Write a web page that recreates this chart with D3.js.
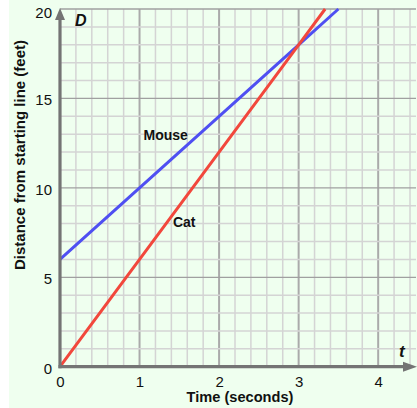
<!DOCTYPE html>
<html><head><meta charset="utf-8">
<script src="https://cdn.jsdelivr.net/npm/d3@7"></script>
<style>body{margin:0;background:#fff}svg{display:block}text{font-family:"Liberation Sans",Arial,sans-serif}</style>
</head><body><svg id="c" width="417" height="408"></svg>
<script>
// data
const mouseT = [0, 1, 2, 3, 3.5];
const mouseD = [6, 10, 14, 18, 20];
const catT = [0, 1, 2, 3, 10/3];
const catD = [0, 6, 12, 18, 20];
const xTicks = [0, 1, 2, 3, 4];
const yTicks = [0, 5, 10, 15, 20];
const seriesNames = ["Mouse", "Cat"];

const svg = d3.select("#c");
const W = 417, H = 408;
const x = d3.scaleLinear().domain([0, 4.4]).range([60, 410]);
const y = d3.scaleLinear().domain([0, 20]).range([366.7, 9]);

svg.append("rect").attr("x", 9).attr("y", 0).attr("width", W - 9).attr("height", H).attr("fill", "#efffef");

// grid
const g = svg.append("g");
const vx = d3.range(1, 23).map(i => i * 0.2);
g.selectAll("line.v").data(vx).join("line")
  .attr("x1", d => x(d)).attr("x2", d => x(d))
  .attr("y1", y(20)).attr("y2", y(0))
  .attr("stroke", d => Math.abs(d - Math.round(d)) < 1e-6 ? "#aaaaaa" : "#d4d4d4")
  .attr("stroke-width", d => Math.abs(d - Math.round(d)) < 1e-6 ? 2 : 1.5);
const hy = d3.range(1, 21);
g.selectAll("line.h").data(hy).join("line")
  .attr("y1", d => y(d)).attr("y2", d => y(d))
  .attr("x1", x(0)).attr("x2", 416)
  .attr("stroke", d => d % 5 === 0 ? "#a0a0a0" : "#d4d4d4")
  .attr("stroke-width", d => d % 5 === 0 ? 1.3 : 1.5);

// series
const line = d3.line().x(d => x(d[0])).y(d => y(d[1]));
svg.append("path").datum(mouseT.map((t, i) => [t, mouseD[i]]))
  .attr("d", line).attr("fill", "none").attr("stroke", "#4f4ff2").attr("stroke-width", 3);
svg.append("path").datum(catT.map((t, i) => [t, catD[i]]))
  .attr("d", line).attr("fill", "none").attr("stroke", "#f2473c").attr("stroke-width", 3);

// axes lines with arrows
const ax = "#747474";
svg.append("line").attr("x1", x(0)).attr("x2", x(0)).attr("y1", y(0) + 1.5).attr("y2", 19).attr("stroke", ax).attr("stroke-width", 3.2);
svg.append("path").attr("d", `M${x(0)},8 L${x(0) - 5},20 L${x(0) + 5},20 Z`).attr("fill", ax);
svg.append("line").attr("x1", x(0) - 1.5).attr("x2", 405).attr("y1", y(0)).attr("y2", y(0)).attr("stroke", ax).attr("stroke-width", 3.2);
svg.append("path").attr("d", `M417,${y(0)} L403,${y(0) - 5} L403,${y(0) + 5} Z`).attr("fill", ax);

// tick labels via d3 axes
const xa = svg.append("g").attr("transform", `translate(0,${y(0)})`)
  .call(d3.axisBottom(x).tickValues(xTicks).tickSize(0).tickPadding(9.5).tickFormat(d3.format("d")));
const ya = svg.append("g").attr("transform", `translate(${x(0)},0)`)
  .call(d3.axisLeft(y).tickValues(yTicks).tickSize(0).tickPadding(8).tickFormat(d3.format("d")));
[xa, ya].forEach(a => {
  a.select(".domain").remove();
  a.selectAll("text").attr("font-size", 15).attr("fill", "#111").style("font-family", '"Liberation Sans",Arial,sans-serif');
});
ya.selectAll("text").attr("dy", d => d === 20 ? "0.55em" : "0.43em");

// axis titles
svg.append("text").attr("x", 240).attr("y", 401.5).attr("text-anchor", "middle")
  .attr("font-size", 14.6).attr("font-weight", "bold").attr("fill", "#111").text("Time (seconds)");
svg.append("text").attr("transform", "translate(25,155) rotate(-90)").attr("text-anchor", "middle")
  .attr("font-size", 15).attr("font-weight", "bold").attr("fill", "#111").text("Distance from starting line (feet)");
svg.append("text").attr("x", 75).attr("y", 26).attr("font-size", 16).attr("font-weight", "bold").attr("font-style", "italic").attr("fill", "#111").text("D");
svg.append("text").attr("x", 399).attr("y", 357).attr("font-size", 17).attr("font-weight", "bold").attr("font-style", "italic").attr("fill", "#111").text("t");

// series labels
svg.append("text").attr("x", x(1.05)).attr("y", 140).attr("font-size", 14).attr("font-weight", "bold").attr("fill", "#111").text(seriesNames[0]);
svg.append("text").attr("x", x(1.42)).attr("y", 227).attr("font-size", 14).attr("font-weight", "bold").attr("fill", "#111").text(seriesNames[1]);
</script></body></html>
